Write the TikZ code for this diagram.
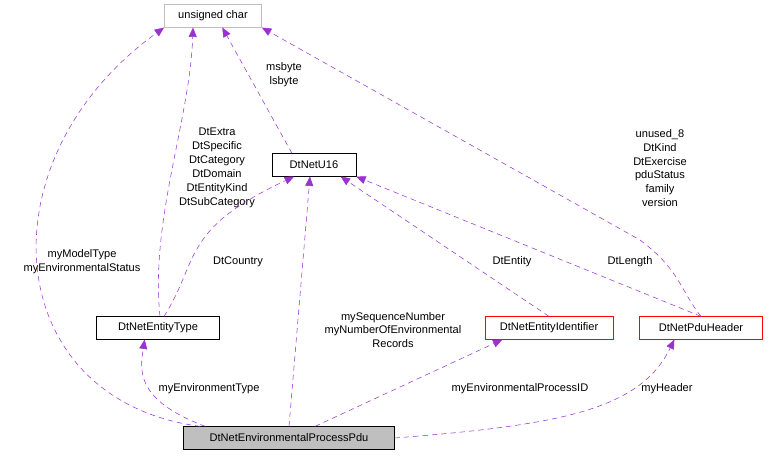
\documentclass[tikz,border=0pt]{standalone}
\usepackage{fontspec}
\setmainfont{Liberation Sans}
\usetikzlibrary{arrows.meta,positioning}
\definecolor{edgepurple}{HTML}{9A32CD}
\definecolor{boxgray}{HTML}{BFBFBF}
\tikzset{
  cls/.style={draw=black,fill=white,inner sep=2pt,minimum height=17pt,font=\fontsize{8.3}{10}\selectfont},
  redcls/.style={cls,draw=red},
  use/.style={dashed,edgepurple,-{Triangle[length=7pt,width=6pt]},dash pattern=on 4pt off 3pt},
  lbl/.style={font=\fontsize{8.3}{10.4}\selectfont,align=center}
}
\begin{document}
\begin{tikzpicture}[x=0.75pt,y=-0.75pt]
\useasboundingbox (0,0) rectangle (768,459);
%classes
\node[cls,draw=boxgray,minimum width=73pt] (uchar) at (213,16) {unsigned char};
\node[cls,minimum width=63pt] (u16) at (314,165) {DtNetU16};
\node[cls,minimum width=92pt] (etype) at (158,328) {DtNetEntityType};
\node[redcls,minimum width=96pt] (eid) at (549,328) {DtNetEntityIdentifier};
\node[redcls,minimum width=92pt] (hdr) at (701,328) {DtNetPduHeader};
\node[cls,fill=boxgray,minimum width=158pt] (pdu) at (289,438) {DtNetEnvironmentalProcessPdu};
%members
\draw[use] (pdu.north west) ++(17,0) .. controls (0,400) and (-20,160) .. (uchar.south west);
\node[lbl] at (82,262) {myModelType\\myEnvironmentalStatus};
\draw[use] (etype.north) ++(2,0) .. controls (150,220) and (190,120) .. ([xshift=-15pt]uchar.south);
\node[lbl] at (217,168) {DtExtra\\DtSpecific\\DtCategory\\DtDomain\\DtEntityKind\\DtSubCategory};
\draw[use] (u16.north) ++(-22,0) -- ([xshift=7pt]uchar.south);
\node[lbl] at (284,75) {msbyte\\lsbyte};
\draw[use] (etype.north) ++(6,0) .. controls (200,260) and (180,230) .. ([xshift=-15pt]u16.south);
\node[lbl] at (238,262) {DtCountry};
\draw[use] (pdu.north west) ++(22,0) .. controls (135,400) and (140,370) .. ([xshift=-10pt]etype.south);
\node[lbl] at (209,389) {myEnvironmentType};
\draw[use] (pdu.north) -- ([xshift=-3pt]u16.south);
\node[lbl] at (393,330) {mySequenceNumber\\myNumberOfEnvironmental\\Records};
\draw[use] (pdu.north) ++(26,0) -- ([xshift=-35pt]eid.south);
\node[lbl] at (520,389) {myEnvironmentalProcessID};
\draw[use] (pdu.east) .. controls (560,425) and (640,410) .. ([xshift=-20pt]hdr.south);
\node[lbl] at (667,389) {myHeader};
\draw[use] (eid.north) -- ([xshift=20pt]u16.south);
\node[lbl] at (512,262) {DtEntity};
\draw[use] (hdr.north) -- (u16.south east);
\node[lbl] at (630,262) {DtLength};
\draw[use] (hdr.north) .. controls (680,290) and (680,270) .. (640,240) -- (uchar.south east);
\node[lbl] at (660,168) {unused\_8\\DtKind\\DtExercise\\pduStatus\\family\\version};
\end{tikzpicture}
\end{document}
